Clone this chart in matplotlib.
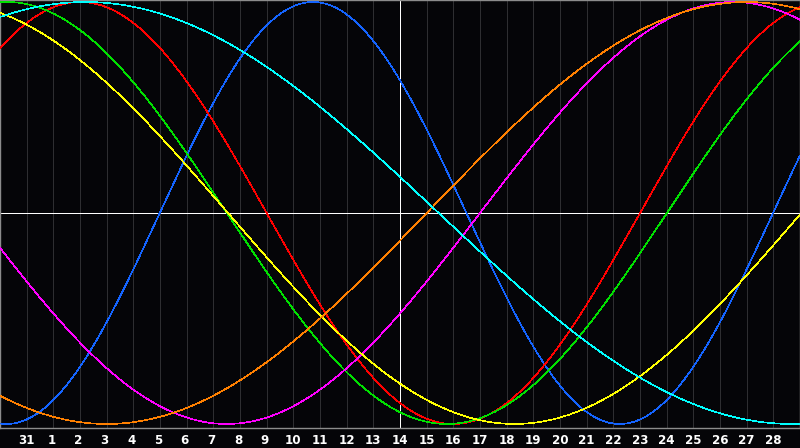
import numpy as np
import matplotlib
matplotlib.use("Agg")
import matplotlib.pyplot as plt
from matplotlib.transforms import offset_copy

# ---- data ----
cycle_names = ['Physical', 'Emotional', 'Intellectual', 'Intuitive',
               'Aesthetic', 'Awareness', 'Spiritual']
periods = [23, 28, 33, 38, 43, 48, 53]            # days
peak_days = [11.74, 3.0, 0.26, 27.5, -2.2, 28.0, 3.2]  # chart-day of a peak
colors = ['#1464ff', '#ff0000', '#00e000', '#ff00ff',
          '#ffff00', '#ff8000', '#00ffff']
day_labels = ['31'] + [str(d) for d in range(1, 29)]
today_index = 15  # grid position of the highlighted day (14)

W, H = 800, 448
fig = plt.figure(figsize=(W / 100, H / 100), dpi=100)
fig.patch.set_facecolor('#050508')
ax = fig.add_axes([0, 20 / H, 1, 428 / H])
ax.set_facecolor('#050508')
ax.set_xlim(0, len(day_labels) + 1)
ax.set_ylim(-1.019, 1.0095)
ax.set_xticks([])
ax.set_yticks([])
for s in ax.spines.values():
    s.set_color('#8c8c8c')
    s.set_linewidth(1.0)

grid_pos = np.arange(1, len(day_labels) + 1)
for g in grid_pos:
    if g != today_index:
        ax.axvline(g, color='#2e2e31', lw=0.7, zorder=1, antialiased=False)
ax.axvline(today_index, color='white', lw=0.7, zorder=2, antialiased=False)
ax.axhline(0, color='white', lw=0.7, zorder=2, antialiased=False)

x = np.linspace(0, len(day_labels) + 1, 1601)
for name, p, pk, c in zip(cycle_names, periods, peak_days, colors):
    y = np.cos(2 * np.pi * (x - pk) / p)
    ax.plot(x, y, color=c, lw=0.45, zorder=3, label=name, antialiased=False)

for g, lab in zip(grid_pos, day_labels):
    dx = -2 if len(lab) == 1 else 0
    tr = offset_copy(ax.transData, fig=fig, x=dx, y=-6, units='dots')
    ax.text(g, -1.019, lab, transform=tr, ha='center', va='top',
            color='white', fontsize=8.6, fontweight='bold',
            family='DejaVu Sans', clip_on=False)

fig.savefig('out.png', dpi=100, facecolor=fig.get_facecolor())
